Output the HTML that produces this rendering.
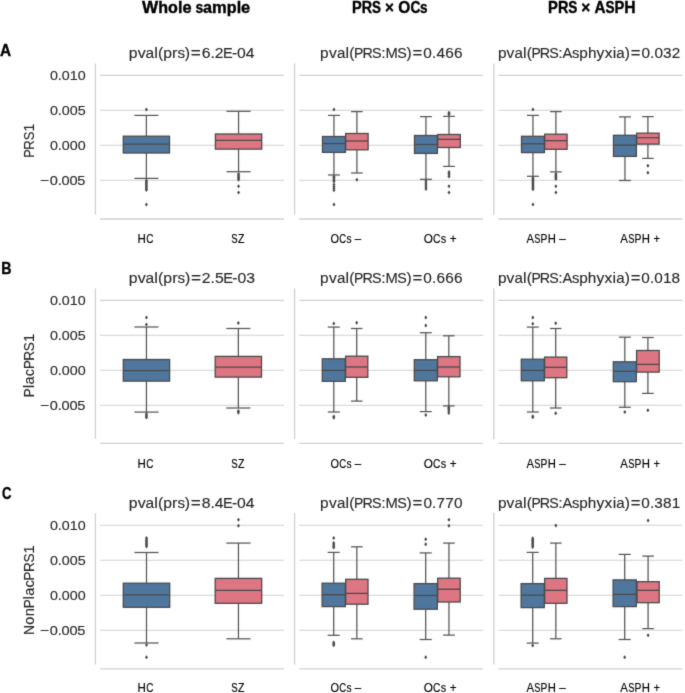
<!DOCTYPE html><html><head><meta charset="utf-8"><style>html,body{margin:0;padding:0;background:#fff;}svg{display:block;will-change:transform;}text{font-family:"Liberation Sans",sans-serif;}</style></head><body>
<svg width="685" height="693" viewBox="0 0 685 693">
<defs><filter id="sf" x="0" y="0" width="685" height="693" filterUnits="userSpaceOnUse" color-interpolation-filters="sRGB"><feConvolveMatrix order="3" kernelMatrix="0.0144 0.0912 0.0144 0.0912 0.5776 0.0912 0.0144 0.0912 0.0144" edgeMode="duplicate"/></filter></defs><g filter="url(#sf)">
<rect width="685" height="693" fill="#fff"/>
<g font-size="16.33" fill="#000" font-weight="bold" stroke="#000" stroke-width="0.4"><text x="141.95" y="12.8" textLength="16.15" lengthAdjust="spacingAndGlyphs">W</text><text x="158.28" y="12.8" textLength="9.82" lengthAdjust="spacingAndGlyphs">h</text><text x="168.08" y="12.8" textLength="9.84" lengthAdjust="spacingAndGlyphs">o</text><text x="177.9" y="12.8" textLength="4.49" lengthAdjust="spacingAndGlyphs">l</text><text x="182.41" y="12.8" textLength="9.13" lengthAdjust="spacingAndGlyphs">e</text><text x="195.46" y="12.8" textLength="7.76" lengthAdjust="spacingAndGlyphs">s</text><text x="202.98" y="12.8" textLength="9.01" lengthAdjust="spacingAndGlyphs">a</text><text x="212.06" y="12.8" textLength="14.71" lengthAdjust="spacingAndGlyphs">m</text><text x="226.82" y="12.8" textLength="9.82" lengthAdjust="spacingAndGlyphs">p</text><text x="236.63" y="12.8" textLength="4.49" lengthAdjust="spacingAndGlyphs">l</text><text x="241.14" y="12.8" textLength="9.13" lengthAdjust="spacingAndGlyphs">e</text></g>
<g font-size="16.42" fill="#000" font-weight="bold" stroke="#000" stroke-width="0.4"><text x="352.07" y="12.8" textLength="9.71" lengthAdjust="spacingAndGlyphs">P</text><text x="361.8" y="12.8" textLength="10.34" lengthAdjust="spacingAndGlyphs">R</text><text x="372.01" y="12.8" textLength="8.93" lengthAdjust="spacingAndGlyphs">S</text><text x="384.91" y="12.8" textLength="8.9" lengthAdjust="spacingAndGlyphs">×</text><text x="398.27" y="12.8" textLength="12.02" lengthAdjust="spacingAndGlyphs">O</text><text x="410.4" y="12.8" textLength="9.9" lengthAdjust="spacingAndGlyphs">C</text><text x="420.11" y="12.8" textLength="7.51" lengthAdjust="spacingAndGlyphs">s</text></g>
<g font-size="16.54" fill="#000" font-weight="bold" stroke="#000" stroke-width="0.4"><text x="548.09" y="12.8" textLength="9.83" lengthAdjust="spacingAndGlyphs">P</text><text x="557.89" y="12.8" textLength="10.47" lengthAdjust="spacingAndGlyphs">R</text><text x="568.17" y="12.8" textLength="9.04" lengthAdjust="spacingAndGlyphs">S</text><text x="581.15" y="12.8" textLength="9.01" lengthAdjust="spacingAndGlyphs">×</text><text x="594.53" y="12.8" textLength="11.02" lengthAdjust="spacingAndGlyphs">A</text><text x="605.49" y="12.8" textLength="9.04" lengthAdjust="spacingAndGlyphs">S</text><text x="614.38" y="12.8" textLength="9.83" lengthAdjust="spacingAndGlyphs">P</text><text x="624.37" y="12.8" textLength="11.33" lengthAdjust="spacingAndGlyphs">H</text></g>
<g font-size="15.7" fill="#000" font-weight="bold" stroke="#000" stroke-width="0.35"><text x="-0.05" y="56.2" textLength="11.11" lengthAdjust="spacingAndGlyphs">A</text></g>
<g font-size="15.7" fill="#000" font-weight="bold" stroke="#000" stroke-width="0.35"><text x="1.2" y="273.7" textLength="10.25" lengthAdjust="spacingAndGlyphs">B</text></g>
<g font-size="15.7" fill="#000" font-weight="bold" stroke="#000" stroke-width="0.35"><text x="1.94" y="499.4" textLength="9.44" lengthAdjust="spacingAndGlyphs">C</text></g>
<g transform="translate(33.6 156.35) rotate(-90)" font-size="14.21" fill="#262626" stroke="#262626" stroke-width="0.12"><text x="-1.52" y="0" textLength="8.51" lengthAdjust="spacingAndGlyphs">P</text><text x="6.72" y="0" textLength="9.44" lengthAdjust="spacingAndGlyphs">R</text><text x="16.02" y="0" textLength="8.68" lengthAdjust="spacingAndGlyphs">S</text><text x="24.98" y="0" textLength="7.79" lengthAdjust="spacingAndGlyphs">1</text></g><g font-size="13.25" fill="#262626" stroke="#262626" stroke-width="0.12"><text x="49.94" y="80.4" textLength="7.95" lengthAdjust="spacingAndGlyphs">0</text><text x="57.89" y="80.4" textLength="3.97" lengthAdjust="spacingAndGlyphs">.</text><text x="61.87" y="80.4" textLength="7.95" lengthAdjust="spacingAndGlyphs">0</text><text x="69.82" y="80.4" textLength="7.95" lengthAdjust="spacingAndGlyphs">1</text><text x="77.78" y="80.4" textLength="7.95" lengthAdjust="spacingAndGlyphs">0</text></g><g font-size="13.25" fill="#262626" stroke="#262626" stroke-width="0.12"><text x="49.94" y="115.3" textLength="7.96" lengthAdjust="spacingAndGlyphs">0</text><text x="57.89" y="115.3" textLength="3.97" lengthAdjust="spacingAndGlyphs">.</text><text x="61.87" y="115.3" textLength="7.96" lengthAdjust="spacingAndGlyphs">0</text><text x="69.82" y="115.3" textLength="7.96" lengthAdjust="spacingAndGlyphs">0</text><text x="77.78" y="115.3" textLength="7.96" lengthAdjust="spacingAndGlyphs">5</text></g><g font-size="13.25" fill="#262626" stroke="#262626" stroke-width="0.12"><text x="49.94" y="150.2" textLength="7.95" lengthAdjust="spacingAndGlyphs">0</text><text x="57.89" y="150.2" textLength="3.97" lengthAdjust="spacingAndGlyphs">.</text><text x="61.87" y="150.2" textLength="7.95" lengthAdjust="spacingAndGlyphs">0</text><text x="69.82" y="150.2" textLength="7.95" lengthAdjust="spacingAndGlyphs">0</text><text x="77.78" y="150.2" textLength="7.95" lengthAdjust="spacingAndGlyphs">0</text></g><g font-size="13.11" fill="#262626" stroke="#262626" stroke-width="0.12"><text x="40.08" y="185.2" textLength="9.31" lengthAdjust="spacingAndGlyphs">−</text><text x="49.81" y="185.2" textLength="8.1" lengthAdjust="spacingAndGlyphs">0</text><text x="57.74" y="185.2" textLength="4.05" lengthAdjust="spacingAndGlyphs">.</text><text x="61.61" y="185.2" textLength="8.1" lengthAdjust="spacingAndGlyphs">0</text><text x="69.49" y="185.2" textLength="8.1" lengthAdjust="spacingAndGlyphs">0</text><text x="77.36" y="185.2" textLength="8.1" lengthAdjust="spacingAndGlyphs">5</text></g><g font-size="14.55" fill="#262626" stroke="#262626" stroke-width="0.12"><text x="128.85" y="58.2" textLength="8.75" lengthAdjust="spacingAndGlyphs">p</text><text x="137.65" y="58.2" textLength="7.98" lengthAdjust="spacingAndGlyphs">v</text><text x="145.6" y="58.2" textLength="8.63" lengthAdjust="spacingAndGlyphs">a</text><text x="154.22" y="58.2" textLength="3.62" lengthAdjust="spacingAndGlyphs">l</text><text x="157.97" y="58.2" textLength="5.29" lengthAdjust="spacingAndGlyphs">(</text><text x="163.28" y="58.2" textLength="8.75" lengthAdjust="spacingAndGlyphs">p</text><text x="172.13" y="58.2" textLength="5.4" lengthAdjust="spacingAndGlyphs">r</text><text x="177.44" y="58.2" textLength="7.58" lengthAdjust="spacingAndGlyphs">s</text><text x="184.84" y="58.2" textLength="5.29" lengthAdjust="spacingAndGlyphs">)</text><text x="190.89" y="58.2" textLength="10.07" lengthAdjust="spacingAndGlyphs">=</text><text x="201.67" y="58.2" textLength="8.76" lengthAdjust="spacingAndGlyphs">6</text><text x="210.41" y="58.2" textLength="4.37" lengthAdjust="spacingAndGlyphs">.</text><text x="214.77" y="58.2" textLength="8.76" lengthAdjust="spacingAndGlyphs">2</text><text x="222.98" y="58.2" textLength="9.74" lengthAdjust="spacingAndGlyphs">E</text><text x="232.1" y="58.2" textLength="5.13" lengthAdjust="spacingAndGlyphs">-</text><text x="237.14" y="58.2" textLength="8.76" lengthAdjust="spacingAndGlyphs">0</text><text x="245.87" y="58.2" textLength="8.76" lengthAdjust="spacingAndGlyphs">4</text></g><line x1="100" y1="75.4" x2="284" y2="75.4" stroke="#d0d0d0" stroke-width="1.1"/><line x1="100" y1="110.3" x2="284" y2="110.3" stroke="#d0d0d0" stroke-width="1.1"/><line x1="100" y1="145.2" x2="284" y2="145.2" stroke="#d0d0d0" stroke-width="1.1"/><line x1="100" y1="180.2" x2="284" y2="180.2" stroke="#d0d0d0" stroke-width="1.1"/><line x1="95.4" y1="63.4" x2="95.4" y2="214.7" stroke="#d0d0d0" stroke-width="1.3"/><line x1="100" y1="219" x2="284" y2="219" stroke="#d0d0d0" stroke-width="1.3"/><g font-size="12.4" fill="#000" stroke="#000" stroke-width="0.15"><text x="137.56" y="242.6" textLength="8.34" lengthAdjust="spacingAndGlyphs">H</text><text x="146.23" y="242.6" textLength="7.25" lengthAdjust="spacingAndGlyphs">C</text></g><g font-size="12.4" fill="#000" stroke="#000" stroke-width="0.15"><text x="231.32" y="242.6" textLength="6.4" lengthAdjust="spacingAndGlyphs">S</text><text x="237.99" y="242.6" textLength="6.46" lengthAdjust="spacingAndGlyphs">Z</text></g><g stroke="#555555" stroke-width="1.25"><line x1="146.4" y1="115.4" x2="146.4" y2="136.2"/><line x1="146.4" y1="153" x2="146.4" y2="178.4"/><line x1="134.39" y1="115.4" x2="158.41" y2="115.4"/><line x1="134.39" y1="178.4" x2="158.41" y2="178.4"/></g><rect x="123.3" y="136.2" width="46.2" height="16.8" fill="#4f779e" stroke="#4a4a4a" stroke-width="1.3"/><line x1="123.3" y1="144.2" x2="169.5" y2="144.2" stroke="#4a4a4a" stroke-width="1.3"/><path d="M146.4 107.6L147.9 109.6L146.4 111.6L144.9 109.6ZM146.4 178.6L147.9 180.6L146.4 182.6L144.9 180.6ZM146.4 179.55L147.9 181.55L146.4 183.55L144.9 181.55ZM146.4 180.5L147.9 182.5L146.4 184.5L144.9 182.5ZM146.4 181.45L147.9 183.45L146.4 185.45L144.9 183.45ZM146.4 182.4L147.9 184.4L146.4 186.4L144.9 184.4ZM146.4 183.35L147.9 185.35L146.4 187.35L144.9 185.35ZM146.4 184.3L147.9 186.3L146.4 188.3L144.9 186.3ZM146.4 185.25L147.9 187.25L146.4 189.25L144.9 187.25ZM146.4 186.2L147.9 188.2L146.4 190.2L144.9 188.2ZM146.4 187.15L147.9 189.15L146.4 191.15L144.9 189.15ZM146.4 188.1L147.9 190.1L146.4 192.1L144.9 190.1ZM146.4 202.5L147.9 204.5L146.4 206.5L144.9 204.5Z" fill="#4a4a4a"/><g stroke="#555555" stroke-width="1.25"><line x1="238.55" y1="111.3" x2="238.55" y2="134"/><line x1="238.55" y1="149.1" x2="238.55" y2="171.7"/><line x1="226.51" y1="111.3" x2="250.59" y2="111.3"/><line x1="226.51" y1="171.7" x2="250.59" y2="171.7"/></g><rect x="215.4" y="134" width="46.3" height="15.1" fill="#dd7682" stroke="#4a4a4a" stroke-width="1.3"/><line x1="215.4" y1="140.3" x2="261.7" y2="140.3" stroke="#4a4a4a" stroke-width="1.3"/><path d="M238.55 172.1L240.05 174.1L238.55 176.1L237.05 174.1ZM238.55 173.03L240.05 175.03L238.55 177.03L237.05 175.03ZM238.55 173.97L240.05 175.97L238.55 177.97L237.05 175.97ZM238.55 174.9L240.05 176.9L238.55 178.9L237.05 176.9ZM238.55 175.83L240.05 177.83L238.55 179.83L237.05 177.83ZM238.55 176.77L240.05 178.77L238.55 180.77L237.05 178.77ZM238.55 177.7L240.05 179.7L238.55 181.7L237.05 179.7ZM238.55 184.3L240.05 186.3L238.55 188.3L237.05 186.3ZM238.55 190.6L240.05 192.6L238.55 194.6L237.05 192.6Z" fill="#4a4a4a"/><g font-size="14.58" fill="#262626" stroke="#262626" stroke-width="0.12"><text x="320.11" y="58.2" textLength="8.55" lengthAdjust="spacingAndGlyphs">p</text><text x="328.92" y="58.2" textLength="7.8" lengthAdjust="spacingAndGlyphs">v</text><text x="336.9" y="58.2" textLength="8.43" lengthAdjust="spacingAndGlyphs">a</text><text x="345.47" y="58.2" textLength="3.54" lengthAdjust="spacingAndGlyphs">l</text><text x="349.25" y="58.2" textLength="5.17" lengthAdjust="spacingAndGlyphs">(</text><text x="354" y="58.2" textLength="9.34" lengthAdjust="spacingAndGlyphs">P</text><text x="362.42" y="58.2" textLength="10.36" lengthAdjust="spacingAndGlyphs">R</text><text x="371.99" y="58.2" textLength="9.53" lengthAdjust="spacingAndGlyphs">S</text><text x="381.25" y="58.2" textLength="4.37" lengthAdjust="spacingAndGlyphs">:</text><text x="385.54" y="58.2" textLength="12.31" lengthAdjust="spacingAndGlyphs">M</text><text x="397.23" y="58.2" textLength="9.53" lengthAdjust="spacingAndGlyphs">S</text><text x="406.47" y="58.2" textLength="5.17" lengthAdjust="spacingAndGlyphs">)</text><text x="412.59" y="58.2" textLength="9.83" lengthAdjust="spacingAndGlyphs">=</text><text x="423.37" y="58.2" textLength="8.55" lengthAdjust="spacingAndGlyphs">0</text><text x="432.08" y="58.2" textLength="4.27" lengthAdjust="spacingAndGlyphs">.</text><text x="436.5" y="58.2" textLength="8.55" lengthAdjust="spacingAndGlyphs">4</text><text x="445.26" y="58.2" textLength="8.55" lengthAdjust="spacingAndGlyphs">6</text><text x="454.02" y="58.2" textLength="8.55" lengthAdjust="spacingAndGlyphs">6</text></g><line x1="299.2" y1="75.4" x2="483.2" y2="75.4" stroke="#d0d0d0" stroke-width="1.1"/><line x1="299.2" y1="110.3" x2="483.2" y2="110.3" stroke="#d0d0d0" stroke-width="1.1"/><line x1="299.2" y1="145.2" x2="483.2" y2="145.2" stroke="#d0d0d0" stroke-width="1.1"/><line x1="299.2" y1="180.2" x2="483.2" y2="180.2" stroke="#d0d0d0" stroke-width="1.1"/><line x1="294.6" y1="63.4" x2="294.6" y2="214.7" stroke="#d0d0d0" stroke-width="1.3"/><line x1="299.2" y1="219" x2="483.2" y2="219" stroke="#d0d0d0" stroke-width="1.3"/><g font-size="12.4" fill="#000" stroke="#000" stroke-width="0.15"><text x="330.48" y="242.6" textLength="8.51" lengthAdjust="spacingAndGlyphs">O</text><text x="339.29" y="242.6" textLength="6.95" lengthAdjust="spacingAndGlyphs">C</text><text x="346.45" y="242.6" textLength="5.07" lengthAdjust="spacingAndGlyphs">s</text><text x="354.83" y="242.6" textLength="6.37" lengthAdjust="spacingAndGlyphs">–</text></g><g font-size="12.4" fill="#000" stroke="#000" stroke-width="0.15"><text x="423.66" y="242.6" textLength="9.12" lengthAdjust="spacingAndGlyphs">O</text><text x="433.12" y="242.6" textLength="7.45" lengthAdjust="spacingAndGlyphs">C</text><text x="440.79" y="242.6" textLength="5.43" lengthAdjust="spacingAndGlyphs">s</text><text x="449.76" y="242.6" textLength="6.86" lengthAdjust="spacingAndGlyphs">+</text></g><g stroke="#555555" stroke-width="1.25"><line x1="333.95" y1="115.4" x2="333.95" y2="136.5"/><line x1="333.95" y1="152.4" x2="333.95" y2="175"/><line x1="328" y1="115.4" x2="339.9" y2="115.4"/><line x1="328" y1="175" x2="339.9" y2="175"/></g><rect x="322.5" y="136.5" width="22.9" height="15.9" fill="#4f779e" stroke="#4a4a4a" stroke-width="1.3"/><line x1="322.5" y1="143.6" x2="345.4" y2="143.6" stroke="#4a4a4a" stroke-width="1.3"/><path d="M333.95 107.6L335.45 109.6L333.95 111.6L332.45 109.6ZM333.95 174.6L335.45 176.6L333.95 178.6L332.45 176.6ZM333.95 175.8L335.45 177.8L333.95 179.8L332.45 177.8ZM333.95 177L335.45 179L333.95 181L332.45 179ZM333.95 178.2L335.45 180.2L333.95 182.2L332.45 180.2ZM333.95 179.4L335.45 181.4L333.95 183.4L332.45 181.4ZM333.95 182.6L335.45 184.6L333.95 186.6L332.45 184.6ZM333.95 184.47L335.45 186.47L333.95 188.47L332.45 186.47ZM333.95 186.33L335.45 188.33L333.95 190.33L332.45 188.33ZM333.95 188.2L335.45 190.2L333.95 192.2L332.45 190.2ZM333.95 202.5L335.45 204.5L333.95 206.5L332.45 204.5Z" fill="#4a4a4a"/><g stroke="#555555" stroke-width="1.25"><line x1="356.9" y1="111.6" x2="356.9" y2="133.5"/><line x1="356.9" y1="149.8" x2="356.9" y2="173"/><line x1="351.08" y1="111.6" x2="362.72" y2="111.6"/><line x1="351.08" y1="173" x2="362.72" y2="173"/></g><rect x="345.7" y="133.5" width="22.4" height="16.3" fill="#dd7682" stroke="#4a4a4a" stroke-width="1.3"/><line x1="345.7" y1="141" x2="368.1" y2="141" stroke="#4a4a4a" stroke-width="1.3"/><path d="M356.9 177.7L358.4 179.7L356.9 181.7L355.4 179.7Z" fill="#4a4a4a"/><g stroke="#555555" stroke-width="1.25"><line x1="425.95" y1="116.6" x2="425.95" y2="135.5"/><line x1="425.95" y1="153.4" x2="425.95" y2="179.3"/><line x1="420" y1="116.6" x2="431.9" y2="116.6"/><line x1="420" y1="179.3" x2="431.9" y2="179.3"/></g><rect x="414.5" y="135.5" width="22.9" height="17.9" fill="#4f779e" stroke="#4a4a4a" stroke-width="1.3"/><line x1="414.5" y1="144.5" x2="437.4" y2="144.5" stroke="#4a4a4a" stroke-width="1.3"/><path d="M425.95 178.9L427.45 180.9L425.95 182.9L424.45 180.9ZM425.95 180.93L427.45 182.93L425.95 184.93L424.45 182.93ZM425.95 182.95L427.45 184.95L425.95 186.95L424.45 184.95ZM425.95 184.97L427.45 186.97L425.95 188.97L424.45 186.97ZM425.95 187L427.45 189L425.95 191L424.45 189Z" fill="#4a4a4a"/><g stroke="#555555" stroke-width="1.25"><line x1="449" y1="116.4" x2="449" y2="134.5"/><line x1="449" y1="147.5" x2="449" y2="166.4"/><line x1="443.12" y1="116.4" x2="454.88" y2="116.4"/><line x1="443.12" y1="166.4" x2="454.88" y2="166.4"/></g><rect x="437.7" y="134.5" width="22.6" height="13" fill="#dd7682" stroke="#4a4a4a" stroke-width="1.3"/><line x1="437.7" y1="139.3" x2="460.3" y2="139.3" stroke="#4a4a4a" stroke-width="1.3"/><path d="M449 110.8L450.5 112.8L449 114.8L447.5 112.8ZM449 111.6L450.5 113.6L449 115.6L447.5 113.6ZM449 112.4L450.5 114.4L449 116.4L447.5 114.4ZM449 170.1L450.5 172.1L449 174.1L447.5 172.1ZM449 171.6L450.5 173.6L449 175.6L447.5 173.6ZM449 173.1L450.5 175.1L449 177.1L447.5 175.1ZM449 174.6L450.5 176.6L449 178.6L447.5 176.6ZM449 184.3L450.5 186.3L449 188.3L447.5 186.3ZM449 190.6L450.5 192.6L449 194.6L447.5 192.6Z" fill="#4a4a4a"/><g font-size="14.41" fill="#262626" stroke="#262626" stroke-width="0.12"><text x="497.92" y="58.2" textLength="8.54" lengthAdjust="spacingAndGlyphs">p</text><text x="506.64" y="58.2" textLength="7.79" lengthAdjust="spacingAndGlyphs">v</text><text x="514.52" y="58.2" textLength="8.42" lengthAdjust="spacingAndGlyphs">a</text><text x="523.01" y="58.2" textLength="3.54" lengthAdjust="spacingAndGlyphs">l</text><text x="526.74" y="58.2" textLength="5.16" lengthAdjust="spacingAndGlyphs">(</text><text x="531.42" y="58.2" textLength="9.33" lengthAdjust="spacingAndGlyphs">P</text><text x="539.73" y="58.2" textLength="10.35" lengthAdjust="spacingAndGlyphs">R</text><text x="549.19" y="58.2" textLength="9.52" lengthAdjust="spacingAndGlyphs">S</text><text x="558.37" y="58.2" textLength="4.37" lengthAdjust="spacingAndGlyphs">:</text><text x="562.59" y="58.2" textLength="9.81" lengthAdjust="spacingAndGlyphs">A</text><text x="571.99" y="58.2" textLength="7.4" lengthAdjust="spacingAndGlyphs">s</text><text x="579.29" y="58.2" textLength="8.54" lengthAdjust="spacingAndGlyphs">p</text><text x="587.91" y="58.2" textLength="8.53" lengthAdjust="spacingAndGlyphs">h</text><text x="596.62" y="58.2" textLength="7.79" lengthAdjust="spacingAndGlyphs">y</text><text x="604.67" y="58.2" textLength="7.79" lengthAdjust="spacingAndGlyphs">x</text><text x="612.71" y="58.2" textLength="3.54" lengthAdjust="spacingAndGlyphs">i</text><text x="616.33" y="58.2" textLength="8.42" lengthAdjust="spacingAndGlyphs">a</text><text x="624.77" y="58.2" textLength="5.16" lengthAdjust="spacingAndGlyphs">)</text><text x="630.8" y="58.2" textLength="9.82" lengthAdjust="spacingAndGlyphs">=</text><text x="641.46" y="58.2" textLength="8.54" lengthAdjust="spacingAndGlyphs">0</text><text x="650.09" y="58.2" textLength="4.27" lengthAdjust="spacingAndGlyphs">.</text><text x="654.44" y="58.2" textLength="8.54" lengthAdjust="spacingAndGlyphs">0</text><text x="663.09" y="58.2" textLength="8.54" lengthAdjust="spacingAndGlyphs">3</text><text x="671.74" y="58.2" textLength="8.54" lengthAdjust="spacingAndGlyphs">2</text></g><line x1="498.4" y1="75.4" x2="682.4" y2="75.4" stroke="#d0d0d0" stroke-width="1.1"/><line x1="498.4" y1="110.3" x2="682.4" y2="110.3" stroke="#d0d0d0" stroke-width="1.1"/><line x1="498.4" y1="145.2" x2="682.4" y2="145.2" stroke="#d0d0d0" stroke-width="1.1"/><line x1="498.4" y1="180.2" x2="682.4" y2="180.2" stroke="#d0d0d0" stroke-width="1.1"/><line x1="493.8" y1="63.4" x2="493.8" y2="214.7" stroke="#d0d0d0" stroke-width="1.3"/><line x1="498.4" y1="219" x2="682.4" y2="219" stroke="#d0d0d0" stroke-width="1.3"/><g font-size="12.4" fill="#000" stroke="#000" stroke-width="0.15"><text x="526.41" y="242.6" textLength="7.54" lengthAdjust="spacingAndGlyphs">A</text><text x="534.21" y="242.6" textLength="6.13" lengthAdjust="spacingAndGlyphs">S</text><text x="540.54" y="242.6" textLength="6.81" lengthAdjust="spacingAndGlyphs">P</text><text x="547.66" y="242.6" textLength="8.13" lengthAdjust="spacingAndGlyphs">H</text><text x="559.24" y="242.6" textLength="6.47" lengthAdjust="spacingAndGlyphs">–</text></g><g font-size="12.4" fill="#000" stroke="#000" stroke-width="0.15"><text x="620.27" y="242.6" textLength="7.61" lengthAdjust="spacingAndGlyphs">A</text><text x="628.15" y="242.6" textLength="6.19" lengthAdjust="spacingAndGlyphs">S</text><text x="634.54" y="242.6" textLength="6.88" lengthAdjust="spacingAndGlyphs">P</text><text x="641.74" y="242.6" textLength="8.2" lengthAdjust="spacingAndGlyphs">H</text><text x="653.42" y="242.6" textLength="6.57" lengthAdjust="spacingAndGlyphs">+</text></g><g stroke="#555555" stroke-width="1.25"><line x1="532.95" y1="115.4" x2="532.95" y2="136.3"/><line x1="532.95" y1="152.6" x2="532.95" y2="176.3"/><line x1="527" y1="115.4" x2="538.9" y2="115.4"/><line x1="527" y1="176.3" x2="538.9" y2="176.3"/></g><rect x="521.5" y="136.3" width="22.9" height="16.3" fill="#4f779e" stroke="#4a4a4a" stroke-width="1.3"/><line x1="521.5" y1="143.8" x2="544.4" y2="143.8" stroke="#4a4a4a" stroke-width="1.3"/><path d="M532.95 107.6L534.45 109.6L532.95 111.6L531.45 109.6ZM532.95 175.9L534.45 177.9L532.95 179.9L531.45 177.9ZM532.95 176.94L534.45 178.94L532.95 180.94L531.45 178.94ZM532.95 177.97L534.45 179.97L532.95 181.97L531.45 179.97ZM532.95 179.01L534.45 181.01L532.95 183.01L531.45 181.01ZM532.95 180.05L534.45 182.05L532.95 184.05L531.45 182.05ZM532.95 181.08L534.45 183.08L532.95 185.08L531.45 183.08ZM532.95 182.12L534.45 184.12L532.95 186.12L531.45 184.12ZM532.95 183.15L534.45 185.15L532.95 187.15L531.45 185.15ZM532.95 184.19L534.45 186.19L532.95 188.19L531.45 186.19ZM532.95 185.23L534.45 187.23L532.95 189.23L531.45 187.23ZM532.95 186.26L534.45 188.26L532.95 190.26L531.45 188.26ZM532.95 187.3L534.45 189.3L532.95 191.3L531.45 189.3ZM532.95 202.5L534.45 204.5L532.95 206.5L531.45 204.5Z" fill="#4a4a4a"/><g stroke="#555555" stroke-width="1.25"><line x1="555.9" y1="111.6" x2="555.9" y2="134.2"/><line x1="555.9" y1="149.3" x2="555.9" y2="171.9"/><line x1="550.08" y1="111.6" x2="561.72" y2="111.6"/><line x1="550.08" y1="171.9" x2="561.72" y2="171.9"/></g><rect x="544.7" y="134.2" width="22.4" height="15.1" fill="#dd7682" stroke="#4a4a4a" stroke-width="1.3"/><line x1="544.7" y1="140.7" x2="567.1" y2="140.7" stroke="#4a4a4a" stroke-width="1.3"/><path d="M555.9 172.1L557.4 174.1L555.9 176.1L554.4 174.1ZM555.9 173.06L557.4 175.06L555.9 177.06L554.4 175.06ZM555.9 174.02L557.4 176.02L555.9 178.02L554.4 176.02ZM555.9 174.98L557.4 176.98L555.9 178.98L554.4 176.98ZM555.9 175.94L557.4 177.94L555.9 179.94L554.4 177.94ZM555.9 176.9L557.4 178.9L555.9 180.9L554.4 178.9ZM555.9 184.3L557.4 186.3L555.9 188.3L554.4 186.3ZM555.9 190.6L557.4 192.6L555.9 194.6L554.4 192.6Z" fill="#4a4a4a"/><g stroke="#555555" stroke-width="1.25"><line x1="624.95" y1="116.9" x2="624.95" y2="135.3"/><line x1="624.95" y1="156.4" x2="624.95" y2="180.5"/><line x1="619" y1="116.9" x2="630.9" y2="116.9"/><line x1="619" y1="180.5" x2="630.9" y2="180.5"/></g><rect x="613.5" y="135.3" width="22.9" height="21.1" fill="#4f779e" stroke="#4a4a4a" stroke-width="1.3"/><line x1="613.5" y1="145.1" x2="636.4" y2="145.1" stroke="#4a4a4a" stroke-width="1.3"/><g stroke="#555555" stroke-width="1.25"><line x1="647.9" y1="116.6" x2="647.9" y2="133.2"/><line x1="647.9" y1="144.1" x2="647.9" y2="158.4"/><line x1="642.08" y1="116.6" x2="653.72" y2="116.6"/><line x1="642.08" y1="158.4" x2="653.72" y2="158.4"/></g><rect x="636.7" y="133.2" width="22.4" height="10.9" fill="#dd7682" stroke="#4a4a4a" stroke-width="1.3"/><line x1="636.7" y1="137.7" x2="659.1" y2="137.7" stroke="#4a4a4a" stroke-width="1.3"/><path d="M647.9 163.65L649.4 165.65L647.9 167.65L646.4 165.65ZM647.9 170.7L649.4 172.7L647.9 174.7L646.4 172.7Z" fill="#4a4a4a"/>
<g transform="translate(33.6 395.5) rotate(-90)" font-size="14.55" fill="#262626" stroke="#262626" stroke-width="0.12"><text x="-1.63" y="0" textLength="8.86" lengthAdjust="spacingAndGlyphs">P</text><text x="7.17" y="0" textLength="3.36" lengthAdjust="spacingAndGlyphs">l</text><text x="10.96" y="0" textLength="7.99" lengthAdjust="spacingAndGlyphs">a</text><text x="19.35" y="0" textLength="7.18" lengthAdjust="spacingAndGlyphs">c</text><text x="26.43" y="0" textLength="8.86" lengthAdjust="spacingAndGlyphs">P</text><text x="34.85" y="0" textLength="9.83" lengthAdjust="spacingAndGlyphs">R</text><text x="44.37" y="0" textLength="9.04" lengthAdjust="spacingAndGlyphs">S</text><text x="53.56" y="0" textLength="8.12" lengthAdjust="spacingAndGlyphs">1</text></g><g font-size="13.25" fill="#262626" stroke="#262626" stroke-width="0.12"><text x="49.94" y="305.4" textLength="7.95" lengthAdjust="spacingAndGlyphs">0</text><text x="57.89" y="305.4" textLength="3.97" lengthAdjust="spacingAndGlyphs">.</text><text x="61.87" y="305.4" textLength="7.95" lengthAdjust="spacingAndGlyphs">0</text><text x="69.82" y="305.4" textLength="7.95" lengthAdjust="spacingAndGlyphs">1</text><text x="77.78" y="305.4" textLength="7.95" lengthAdjust="spacingAndGlyphs">0</text></g><g font-size="13.25" fill="#262626" stroke="#262626" stroke-width="0.12"><text x="49.94" y="340.3" textLength="7.96" lengthAdjust="spacingAndGlyphs">0</text><text x="57.89" y="340.3" textLength="3.97" lengthAdjust="spacingAndGlyphs">.</text><text x="61.87" y="340.3" textLength="7.96" lengthAdjust="spacingAndGlyphs">0</text><text x="69.82" y="340.3" textLength="7.96" lengthAdjust="spacingAndGlyphs">0</text><text x="77.78" y="340.3" textLength="7.96" lengthAdjust="spacingAndGlyphs">5</text></g><g font-size="13.25" fill="#262626" stroke="#262626" stroke-width="0.12"><text x="49.94" y="375.3" textLength="7.95" lengthAdjust="spacingAndGlyphs">0</text><text x="57.89" y="375.3" textLength="3.97" lengthAdjust="spacingAndGlyphs">.</text><text x="61.87" y="375.3" textLength="7.95" lengthAdjust="spacingAndGlyphs">0</text><text x="69.82" y="375.3" textLength="7.95" lengthAdjust="spacingAndGlyphs">0</text><text x="77.78" y="375.3" textLength="7.95" lengthAdjust="spacingAndGlyphs">0</text></g><g font-size="13.11" fill="#262626" stroke="#262626" stroke-width="0.12"><text x="40.08" y="410.2" textLength="9.31" lengthAdjust="spacingAndGlyphs">−</text><text x="49.81" y="410.2" textLength="8.1" lengthAdjust="spacingAndGlyphs">0</text><text x="57.74" y="410.2" textLength="4.05" lengthAdjust="spacingAndGlyphs">.</text><text x="61.61" y="410.2" textLength="8.1" lengthAdjust="spacingAndGlyphs">0</text><text x="69.49" y="410.2" textLength="8.1" lengthAdjust="spacingAndGlyphs">0</text><text x="77.36" y="410.2" textLength="8.1" lengthAdjust="spacingAndGlyphs">5</text></g><g font-size="14.59" fill="#262626" stroke="#262626" stroke-width="0.12"><text x="128.85" y="283.1" textLength="8.77" lengthAdjust="spacingAndGlyphs">p</text><text x="137.67" y="283.1" textLength="8" lengthAdjust="spacingAndGlyphs">v</text><text x="145.64" y="283.1" textLength="8.65" lengthAdjust="spacingAndGlyphs">a</text><text x="154.28" y="283.1" textLength="3.63" lengthAdjust="spacingAndGlyphs">l</text><text x="158.04" y="283.1" textLength="5.31" lengthAdjust="spacingAndGlyphs">(</text><text x="163.36" y="283.1" textLength="8.77" lengthAdjust="spacingAndGlyphs">p</text><text x="172.24" y="283.1" textLength="5.42" lengthAdjust="spacingAndGlyphs">r</text><text x="177.56" y="283.1" textLength="7.6" lengthAdjust="spacingAndGlyphs">s</text><text x="184.98" y="283.1" textLength="5.31" lengthAdjust="spacingAndGlyphs">)</text><text x="191.04" y="283.1" textLength="10.09" lengthAdjust="spacingAndGlyphs">=</text><text x="201.84" y="283.1" textLength="8.78" lengthAdjust="spacingAndGlyphs">2</text><text x="210.61" y="283.1" textLength="4.39" lengthAdjust="spacingAndGlyphs">.</text><text x="214.98" y="283.1" textLength="8.78" lengthAdjust="spacingAndGlyphs">5</text><text x="223.22" y="283.1" textLength="9.76" lengthAdjust="spacingAndGlyphs">E</text><text x="232.36" y="283.1" textLength="5.14" lengthAdjust="spacingAndGlyphs">-</text><text x="237.4" y="283.1" textLength="8.78" lengthAdjust="spacingAndGlyphs">0</text><text x="246.16" y="283.1" textLength="8.78" lengthAdjust="spacingAndGlyphs">3</text></g><line x1="100" y1="300.4" x2="284" y2="300.4" stroke="#d0d0d0" stroke-width="1.1"/><line x1="100" y1="335.3" x2="284" y2="335.3" stroke="#d0d0d0" stroke-width="1.1"/><line x1="100" y1="370.3" x2="284" y2="370.3" stroke="#d0d0d0" stroke-width="1.1"/><line x1="100" y1="405.2" x2="284" y2="405.2" stroke="#d0d0d0" stroke-width="1.1"/><line x1="95.4" y1="288.3" x2="95.4" y2="438.9" stroke="#d0d0d0" stroke-width="1.3"/><line x1="100" y1="443.3" x2="284" y2="443.3" stroke="#d0d0d0" stroke-width="1.3"/><g font-size="12.4" fill="#000" stroke="#000" stroke-width="0.15"><text x="137.56" y="467.5" textLength="8.34" lengthAdjust="spacingAndGlyphs">H</text><text x="146.23" y="467.5" textLength="7.25" lengthAdjust="spacingAndGlyphs">C</text></g><g font-size="12.4" fill="#000" stroke="#000" stroke-width="0.15"><text x="231.32" y="467.5" textLength="6.4" lengthAdjust="spacingAndGlyphs">S</text><text x="237.99" y="467.5" textLength="6.46" lengthAdjust="spacingAndGlyphs">Z</text></g><g stroke="#555555" stroke-width="1.25"><line x1="146.45" y1="327" x2="146.45" y2="359.5"/><line x1="146.45" y1="381.1" x2="146.45" y2="412.1"/><line x1="134.41" y1="327" x2="158.49" y2="327"/><line x1="134.41" y1="412.1" x2="158.49" y2="412.1"/></g><rect x="123.3" y="359.5" width="46.3" height="21.6" fill="#4f779e" stroke="#4a4a4a" stroke-width="1.3"/><line x1="123.3" y1="370.6" x2="169.6" y2="370.6" stroke="#4a4a4a" stroke-width="1.3"/><path d="M146.45 315.6L147.95 317.6L146.45 319.6L144.95 317.6ZM146.45 322.4L147.95 324.4L146.45 326.4L144.95 324.4ZM146.45 412.1L147.95 414.1L146.45 416.1L144.95 414.1ZM146.45 413.27L147.95 415.27L146.45 417.27L144.95 415.27ZM146.45 414.43L147.95 416.43L146.45 418.43L144.95 416.43ZM146.45 415.6L147.95 417.6L146.45 419.6L144.95 417.6Z" fill="#4a4a4a"/><g stroke="#555555" stroke-width="1.25"><line x1="238.35" y1="328.5" x2="238.35" y2="356.4"/><line x1="238.35" y1="377.1" x2="238.35" y2="408"/><line x1="226.31" y1="328.5" x2="250.39" y2="328.5"/><line x1="226.31" y1="408" x2="250.39" y2="408"/></g><rect x="215.2" y="356.4" width="46.3" height="20.7" fill="#dd7682" stroke="#4a4a4a" stroke-width="1.3"/><line x1="215.2" y1="367.1" x2="261.5" y2="367.1" stroke="#4a4a4a" stroke-width="1.3"/><path d="M238.35 320.9L239.85 322.9L238.35 324.9L236.85 322.9ZM238.35 408.9L239.85 410.9L238.35 412.9L236.85 410.9ZM238.35 409.85L239.85 411.85L238.35 413.85L236.85 411.85ZM238.35 410.8L239.85 412.8L238.35 414.8L236.85 412.8Z" fill="#4a4a4a"/><g font-size="14.58" fill="#262626" stroke="#262626" stroke-width="0.12"><text x="320.11" y="283.1" textLength="8.55" lengthAdjust="spacingAndGlyphs">p</text><text x="328.92" y="283.1" textLength="7.8" lengthAdjust="spacingAndGlyphs">v</text><text x="336.9" y="283.1" textLength="8.43" lengthAdjust="spacingAndGlyphs">a</text><text x="345.47" y="283.1" textLength="3.54" lengthAdjust="spacingAndGlyphs">l</text><text x="349.25" y="283.1" textLength="5.17" lengthAdjust="spacingAndGlyphs">(</text><text x="354" y="283.1" textLength="9.34" lengthAdjust="spacingAndGlyphs">P</text><text x="362.42" y="283.1" textLength="10.36" lengthAdjust="spacingAndGlyphs">R</text><text x="371.99" y="283.1" textLength="9.53" lengthAdjust="spacingAndGlyphs">S</text><text x="381.25" y="283.1" textLength="4.37" lengthAdjust="spacingAndGlyphs">:</text><text x="385.54" y="283.1" textLength="12.31" lengthAdjust="spacingAndGlyphs">M</text><text x="397.23" y="283.1" textLength="9.53" lengthAdjust="spacingAndGlyphs">S</text><text x="406.47" y="283.1" textLength="5.17" lengthAdjust="spacingAndGlyphs">)</text><text x="412.59" y="283.1" textLength="9.83" lengthAdjust="spacingAndGlyphs">=</text><text x="423.37" y="283.1" textLength="8.55" lengthAdjust="spacingAndGlyphs">0</text><text x="432.08" y="283.1" textLength="4.27" lengthAdjust="spacingAndGlyphs">.</text><text x="436.5" y="283.1" textLength="8.55" lengthAdjust="spacingAndGlyphs">6</text><text x="445.26" y="283.1" textLength="8.55" lengthAdjust="spacingAndGlyphs">6</text><text x="454.02" y="283.1" textLength="8.55" lengthAdjust="spacingAndGlyphs">6</text></g><line x1="299.2" y1="300.4" x2="483.2" y2="300.4" stroke="#d0d0d0" stroke-width="1.1"/><line x1="299.2" y1="335.3" x2="483.2" y2="335.3" stroke="#d0d0d0" stroke-width="1.1"/><line x1="299.2" y1="370.3" x2="483.2" y2="370.3" stroke="#d0d0d0" stroke-width="1.1"/><line x1="299.2" y1="405.2" x2="483.2" y2="405.2" stroke="#d0d0d0" stroke-width="1.1"/><line x1="294.6" y1="288.3" x2="294.6" y2="438.9" stroke="#d0d0d0" stroke-width="1.3"/><line x1="299.2" y1="443.3" x2="483.2" y2="443.3" stroke="#d0d0d0" stroke-width="1.3"/><g font-size="12.4" fill="#000" stroke="#000" stroke-width="0.15"><text x="330.48" y="467.5" textLength="8.51" lengthAdjust="spacingAndGlyphs">O</text><text x="339.29" y="467.5" textLength="6.95" lengthAdjust="spacingAndGlyphs">C</text><text x="346.45" y="467.5" textLength="5.07" lengthAdjust="spacingAndGlyphs">s</text><text x="354.83" y="467.5" textLength="6.37" lengthAdjust="spacingAndGlyphs">–</text></g><g font-size="12.4" fill="#000" stroke="#000" stroke-width="0.15"><text x="423.66" y="467.5" textLength="9.12" lengthAdjust="spacingAndGlyphs">O</text><text x="433.12" y="467.5" textLength="7.45" lengthAdjust="spacingAndGlyphs">C</text><text x="440.79" y="467.5" textLength="5.43" lengthAdjust="spacingAndGlyphs">s</text><text x="449.76" y="467.5" textLength="6.86" lengthAdjust="spacingAndGlyphs">+</text></g><g stroke="#555555" stroke-width="1.25"><line x1="333.8" y1="327.1" x2="333.8" y2="358.8"/><line x1="333.8" y1="381.3" x2="333.8" y2="412"/><line x1="327.82" y1="327.1" x2="339.78" y2="327.1"/><line x1="327.82" y1="412" x2="339.78" y2="412"/></g><rect x="322.3" y="358.8" width="23" height="22.5" fill="#4f779e" stroke="#4a4a4a" stroke-width="1.3"/><line x1="322.3" y1="370.4" x2="345.3" y2="370.4" stroke="#4a4a4a" stroke-width="1.3"/><path d="M333.8 321.5L335.3 323.5L333.8 325.5L332.3 323.5ZM333.8 414.4L335.3 416.4L333.8 418.4L332.3 416.4ZM333.8 415.8L335.3 417.8L333.8 419.8L332.3 417.8Z" fill="#4a4a4a"/><g stroke="#555555" stroke-width="1.25"><line x1="356.7" y1="328.5" x2="356.7" y2="356.2"/><line x1="356.7" y1="377.3" x2="356.7" y2="401.1"/><line x1="350.93" y1="328.5" x2="362.47" y2="328.5"/><line x1="350.93" y1="401.1" x2="362.47" y2="401.1"/></g><rect x="345.6" y="356.2" width="22.2" height="21.1" fill="#dd7682" stroke="#4a4a4a" stroke-width="1.3"/><line x1="345.6" y1="367" x2="367.8" y2="367" stroke="#4a4a4a" stroke-width="1.3"/><path d="M356.7 320.8L358.2 322.8L356.7 324.8L355.2 322.8Z" fill="#4a4a4a"/><g stroke="#555555" stroke-width="1.25"><line x1="425.8" y1="332.7" x2="425.8" y2="359.7"/><line x1="425.8" y1="380.8" x2="425.8" y2="411.6"/><line x1="419.82" y1="332.7" x2="431.78" y2="332.7"/><line x1="419.82" y1="411.6" x2="431.78" y2="411.6"/></g><rect x="414.3" y="359.7" width="23" height="21.1" fill="#4f779e" stroke="#4a4a4a" stroke-width="1.3"/><line x1="414.3" y1="370.4" x2="437.3" y2="370.4" stroke="#4a4a4a" stroke-width="1.3"/><path d="M425.8 315.6L427.3 317.6L425.8 319.6L424.3 317.6ZM425.8 323.4L427.3 325.4L425.8 327.4L424.3 325.4ZM425.8 412.9L427.3 414.9L425.8 416.9L424.3 414.9Z" fill="#4a4a4a"/><g stroke="#555555" stroke-width="1.25"><line x1="448.8" y1="335.8" x2="448.8" y2="356.6"/><line x1="448.8" y1="376.8" x2="448.8" y2="405.9"/><line x1="442.98" y1="335.8" x2="454.62" y2="335.8"/><line x1="442.98" y1="405.9" x2="454.62" y2="405.9"/></g><rect x="437.6" y="356.6" width="22.4" height="20.2" fill="#dd7682" stroke="#4a4a4a" stroke-width="1.3"/><line x1="437.6" y1="367" x2="460" y2="367" stroke="#4a4a4a" stroke-width="1.3"/><path d="M448.8 405.2L450.3 407.2L448.8 409.2L447.3 407.2ZM448.8 406.17L450.3 408.17L448.8 410.17L447.3 408.17ZM448.8 407.13L450.3 409.13L448.8 411.13L447.3 409.13ZM448.8 408.1L450.3 410.1L448.8 412.1L447.3 410.1ZM448.8 409.07L450.3 411.07L448.8 413.07L447.3 411.07ZM448.8 410.03L450.3 412.03L448.8 414.03L447.3 412.03ZM448.8 411L450.3 413L448.8 415L447.3 413Z" fill="#4a4a4a"/><g font-size="14.4" fill="#262626" stroke="#262626" stroke-width="0.12"><text x="497.93" y="283.1" textLength="8.53" lengthAdjust="spacingAndGlyphs">p</text><text x="506.63" y="283.1" textLength="7.78" lengthAdjust="spacingAndGlyphs">v</text><text x="514.5" y="283.1" textLength="8.41" lengthAdjust="spacingAndGlyphs">a</text><text x="522.99" y="283.1" textLength="3.53" lengthAdjust="spacingAndGlyphs">l</text><text x="526.72" y="283.1" textLength="5.16" lengthAdjust="spacingAndGlyphs">(</text><text x="531.39" y="283.1" textLength="9.32" lengthAdjust="spacingAndGlyphs">P</text><text x="539.69" y="283.1" textLength="10.34" lengthAdjust="spacingAndGlyphs">R</text><text x="549.14" y="283.1" textLength="9.51" lengthAdjust="spacingAndGlyphs">S</text><text x="558.32" y="283.1" textLength="4.37" lengthAdjust="spacingAndGlyphs">:</text><text x="562.54" y="283.1" textLength="9.8" lengthAdjust="spacingAndGlyphs">A</text><text x="571.93" y="283.1" textLength="7.39" lengthAdjust="spacingAndGlyphs">s</text><text x="579.21" y="283.1" textLength="8.53" lengthAdjust="spacingAndGlyphs">p</text><text x="587.84" y="283.1" textLength="8.52" lengthAdjust="spacingAndGlyphs">h</text><text x="596.53" y="283.1" textLength="7.78" lengthAdjust="spacingAndGlyphs">y</text><text x="604.58" y="283.1" textLength="7.78" lengthAdjust="spacingAndGlyphs">x</text><text x="612.61" y="283.1" textLength="3.53" lengthAdjust="spacingAndGlyphs">i</text><text x="616.22" y="283.1" textLength="8.41" lengthAdjust="spacingAndGlyphs">a</text><text x="624.66" y="283.1" textLength="5.16" lengthAdjust="spacingAndGlyphs">)</text><text x="630.68" y="283.1" textLength="9.81" lengthAdjust="spacingAndGlyphs">=</text><text x="641.33" y="283.1" textLength="8.54" lengthAdjust="spacingAndGlyphs">0</text><text x="649.95" y="283.1" textLength="4.26" lengthAdjust="spacingAndGlyphs">.</text><text x="654.3" y="283.1" textLength="8.54" lengthAdjust="spacingAndGlyphs">0</text><text x="662.94" y="283.1" textLength="8.54" lengthAdjust="spacingAndGlyphs">1</text><text x="671.59" y="283.1" textLength="8.54" lengthAdjust="spacingAndGlyphs">8</text></g><line x1="498.4" y1="300.4" x2="682.4" y2="300.4" stroke="#d0d0d0" stroke-width="1.1"/><line x1="498.4" y1="335.3" x2="682.4" y2="335.3" stroke="#d0d0d0" stroke-width="1.1"/><line x1="498.4" y1="370.3" x2="682.4" y2="370.3" stroke="#d0d0d0" stroke-width="1.1"/><line x1="498.4" y1="405.2" x2="682.4" y2="405.2" stroke="#d0d0d0" stroke-width="1.1"/><line x1="493.8" y1="288.3" x2="493.8" y2="438.9" stroke="#d0d0d0" stroke-width="1.3"/><line x1="498.4" y1="443.3" x2="682.4" y2="443.3" stroke="#d0d0d0" stroke-width="1.3"/><g font-size="12.4" fill="#000" stroke="#000" stroke-width="0.15"><text x="526.41" y="467.5" textLength="7.54" lengthAdjust="spacingAndGlyphs">A</text><text x="534.21" y="467.5" textLength="6.13" lengthAdjust="spacingAndGlyphs">S</text><text x="540.54" y="467.5" textLength="6.81" lengthAdjust="spacingAndGlyphs">P</text><text x="547.66" y="467.5" textLength="8.13" lengthAdjust="spacingAndGlyphs">H</text><text x="559.24" y="467.5" textLength="6.47" lengthAdjust="spacingAndGlyphs">–</text></g><g font-size="12.4" fill="#000" stroke="#000" stroke-width="0.15"><text x="620.27" y="467.5" textLength="7.61" lengthAdjust="spacingAndGlyphs">A</text><text x="628.15" y="467.5" textLength="6.19" lengthAdjust="spacingAndGlyphs">S</text><text x="634.54" y="467.5" textLength="6.88" lengthAdjust="spacingAndGlyphs">P</text><text x="641.74" y="467.5" textLength="8.2" lengthAdjust="spacingAndGlyphs">H</text><text x="653.42" y="467.5" textLength="6.57" lengthAdjust="spacingAndGlyphs">+</text></g><g stroke="#555555" stroke-width="1.25"><line x1="532.8" y1="327.1" x2="532.8" y2="359.2"/><line x1="532.8" y1="380.8" x2="532.8" y2="412"/><line x1="526.82" y1="327.1" x2="538.78" y2="327.1"/><line x1="526.82" y1="412" x2="538.78" y2="412"/></g><rect x="521.3" y="359.2" width="23" height="21.6" fill="#4f779e" stroke="#4a4a4a" stroke-width="1.3"/><line x1="521.3" y1="370.4" x2="544.3" y2="370.4" stroke="#4a4a4a" stroke-width="1.3"/><path d="M532.8 315.6L534.3 317.6L532.8 319.6L531.3 317.6ZM532.8 321.7L534.3 323.7L532.8 325.7L531.3 323.7ZM532.8 414.2L534.3 416.2L532.8 418.2L531.3 416.2ZM532.8 415.3L534.3 417.3L532.8 419.3L531.3 417.3Z" fill="#4a4a4a"/><g stroke="#555555" stroke-width="1.25"><line x1="555.7" y1="328.5" x2="555.7" y2="357.1"/><line x1="555.7" y1="377.7" x2="555.7" y2="408"/><line x1="549.93" y1="328.5" x2="561.47" y2="328.5"/><line x1="549.93" y1="408" x2="561.47" y2="408"/></g><rect x="544.6" y="357.1" width="22.2" height="20.6" fill="#dd7682" stroke="#4a4a4a" stroke-width="1.3"/><line x1="544.6" y1="367.3" x2="566.8" y2="367.3" stroke="#4a4a4a" stroke-width="1.3"/><path d="M555.7 321.3L557.2 323.3L555.7 325.3L554.2 323.3ZM555.7 411.2L557.2 413.2L555.7 415.2L554.2 413.2Z" fill="#4a4a4a"/><g stroke="#555555" stroke-width="1.25"><line x1="624.8" y1="337.2" x2="624.8" y2="361.8"/><line x1="624.8" y1="381.7" x2="624.8" y2="407.3"/><line x1="618.82" y1="337.2" x2="630.78" y2="337.2"/><line x1="618.82" y1="407.3" x2="630.78" y2="407.3"/></g><rect x="613.3" y="361.8" width="23" height="19.9" fill="#4f779e" stroke="#4a4a4a" stroke-width="1.3"/><line x1="613.3" y1="371.3" x2="636.3" y2="371.3" stroke="#4a4a4a" stroke-width="1.3"/><path d="M624.8 410L626.3 412L624.8 414L623.3 412Z" fill="#4a4a4a"/><g stroke="#555555" stroke-width="1.25"><line x1="647.9" y1="337.5" x2="647.9" y2="350.5"/><line x1="647.9" y1="372.1" x2="647.9" y2="393.4"/><line x1="642.02" y1="337.5" x2="653.78" y2="337.5"/><line x1="642.02" y1="393.4" x2="653.78" y2="393.4"/></g><rect x="636.6" y="350.5" width="22.6" height="21.6" fill="#dd7682" stroke="#4a4a4a" stroke-width="1.3"/><line x1="636.6" y1="364.4" x2="659.2" y2="364.4" stroke="#4a4a4a" stroke-width="1.3"/><path d="M647.9 408.2L649.4 410.2L647.9 412.2L646.4 410.2Z" fill="#4a4a4a"/>
<g transform="translate(33.6 633.8) rotate(-90)" font-size="14.45" fill="#262626" stroke="#262626" stroke-width="0.12"><text x="-1.32" y="0" textLength="10.19" lengthAdjust="spacingAndGlyphs">N</text><text x="9.02" y="0" textLength="8.04" lengthAdjust="spacingAndGlyphs">o</text><text x="17.46" y="0" textLength="8.15" lengthAdjust="spacingAndGlyphs">n</text><text x="25.51" y="0" textLength="8.91" lengthAdjust="spacingAndGlyphs">P</text><text x="34.28" y="0" textLength="3.38" lengthAdjust="spacingAndGlyphs">l</text><text x="38.03" y="0" textLength="8.04" lengthAdjust="spacingAndGlyphs">a</text><text x="46.36" y="0" textLength="7.22" lengthAdjust="spacingAndGlyphs">c</text><text x="53.38" y="0" textLength="8.91" lengthAdjust="spacingAndGlyphs">P</text><text x="61.74" y="0" textLength="9.89" lengthAdjust="spacingAndGlyphs">R</text><text x="71.2" y="0" textLength="9.09" lengthAdjust="spacingAndGlyphs">S</text><text x="80.33" y="0" textLength="8.16" lengthAdjust="spacingAndGlyphs">1</text></g><g font-size="13.25" fill="#262626" stroke="#262626" stroke-width="0.12"><text x="49.94" y="530.2" textLength="7.95" lengthAdjust="spacingAndGlyphs">0</text><text x="57.89" y="530.2" textLength="3.97" lengthAdjust="spacingAndGlyphs">.</text><text x="61.87" y="530.2" textLength="7.95" lengthAdjust="spacingAndGlyphs">0</text><text x="69.82" y="530.2" textLength="7.95" lengthAdjust="spacingAndGlyphs">1</text><text x="77.78" y="530.2" textLength="7.95" lengthAdjust="spacingAndGlyphs">0</text></g><g font-size="13.25" fill="#262626" stroke="#262626" stroke-width="0.12"><text x="49.94" y="565.2" textLength="7.96" lengthAdjust="spacingAndGlyphs">0</text><text x="57.89" y="565.2" textLength="3.97" lengthAdjust="spacingAndGlyphs">.</text><text x="61.87" y="565.2" textLength="7.96" lengthAdjust="spacingAndGlyphs">0</text><text x="69.82" y="565.2" textLength="7.96" lengthAdjust="spacingAndGlyphs">0</text><text x="77.78" y="565.2" textLength="7.96" lengthAdjust="spacingAndGlyphs">5</text></g><g font-size="13.25" fill="#262626" stroke="#262626" stroke-width="0.12"><text x="49.94" y="600.2" textLength="7.95" lengthAdjust="spacingAndGlyphs">0</text><text x="57.89" y="600.2" textLength="3.97" lengthAdjust="spacingAndGlyphs">.</text><text x="61.87" y="600.2" textLength="7.95" lengthAdjust="spacingAndGlyphs">0</text><text x="69.82" y="600.2" textLength="7.95" lengthAdjust="spacingAndGlyphs">0</text><text x="77.78" y="600.2" textLength="7.95" lengthAdjust="spacingAndGlyphs">0</text></g><g font-size="13.11" fill="#262626" stroke="#262626" stroke-width="0.12"><text x="40.08" y="635.3" textLength="9.31" lengthAdjust="spacingAndGlyphs">−</text><text x="49.81" y="635.3" textLength="8.1" lengthAdjust="spacingAndGlyphs">0</text><text x="57.74" y="635.3" textLength="4.05" lengthAdjust="spacingAndGlyphs">.</text><text x="61.61" y="635.3" textLength="8.1" lengthAdjust="spacingAndGlyphs">0</text><text x="69.49" y="635.3" textLength="8.1" lengthAdjust="spacingAndGlyphs">0</text><text x="77.36" y="635.3" textLength="8.1" lengthAdjust="spacingAndGlyphs">5</text></g><g font-size="14.55" fill="#262626" stroke="#262626" stroke-width="0.12"><text x="128.85" y="507.9" textLength="8.75" lengthAdjust="spacingAndGlyphs">p</text><text x="137.65" y="507.9" textLength="7.98" lengthAdjust="spacingAndGlyphs">v</text><text x="145.6" y="507.9" textLength="8.63" lengthAdjust="spacingAndGlyphs">a</text><text x="154.22" y="507.9" textLength="3.62" lengthAdjust="spacingAndGlyphs">l</text><text x="157.97" y="507.9" textLength="5.29" lengthAdjust="spacingAndGlyphs">(</text><text x="163.28" y="507.9" textLength="8.75" lengthAdjust="spacingAndGlyphs">p</text><text x="172.13" y="507.9" textLength="5.4" lengthAdjust="spacingAndGlyphs">r</text><text x="177.44" y="507.9" textLength="7.58" lengthAdjust="spacingAndGlyphs">s</text><text x="184.84" y="507.9" textLength="5.29" lengthAdjust="spacingAndGlyphs">)</text><text x="190.89" y="507.9" textLength="10.07" lengthAdjust="spacingAndGlyphs">=</text><text x="201.67" y="507.9" textLength="8.76" lengthAdjust="spacingAndGlyphs">8</text><text x="210.41" y="507.9" textLength="4.37" lengthAdjust="spacingAndGlyphs">.</text><text x="214.77" y="507.9" textLength="8.76" lengthAdjust="spacingAndGlyphs">4</text><text x="222.98" y="507.9" textLength="9.74" lengthAdjust="spacingAndGlyphs">E</text><text x="232.1" y="507.9" textLength="5.13" lengthAdjust="spacingAndGlyphs">-</text><text x="237.14" y="507.9" textLength="8.76" lengthAdjust="spacingAndGlyphs">0</text><text x="245.87" y="507.9" textLength="8.76" lengthAdjust="spacingAndGlyphs">4</text></g><line x1="100" y1="525.2" x2="284" y2="525.2" stroke="#d0d0d0" stroke-width="1.1"/><line x1="100" y1="560.2" x2="284" y2="560.2" stroke="#d0d0d0" stroke-width="1.1"/><line x1="100" y1="595.2" x2="284" y2="595.2" stroke="#d0d0d0" stroke-width="1.1"/><line x1="100" y1="630.3" x2="284" y2="630.3" stroke="#d0d0d0" stroke-width="1.1"/><line x1="95.4" y1="513.1" x2="95.4" y2="664.6" stroke="#d0d0d0" stroke-width="1.3"/><line x1="100" y1="668.9" x2="284" y2="668.9" stroke="#d0d0d0" stroke-width="1.3"/><g font-size="12.4" fill="#000" stroke="#000" stroke-width="0.15"><text x="137.56" y="692.3" textLength="8.34" lengthAdjust="spacingAndGlyphs">H</text><text x="146.23" y="692.3" textLength="7.25" lengthAdjust="spacingAndGlyphs">C</text></g><g font-size="12.4" fill="#000" stroke="#000" stroke-width="0.15"><text x="231.32" y="692.3" textLength="6.4" lengthAdjust="spacingAndGlyphs">S</text><text x="237.99" y="692.3" textLength="6.46" lengthAdjust="spacingAndGlyphs">Z</text></g><g stroke="#555555" stroke-width="1.25"><line x1="146.5" y1="552.5" x2="146.5" y2="583.2"/><line x1="146.5" y1="607.3" x2="146.5" y2="643"/><line x1="134.44" y1="552.5" x2="158.56" y2="552.5"/><line x1="134.44" y1="643" x2="158.56" y2="643"/></g><rect x="123.3" y="583.2" width="46.4" height="24.1" fill="#4f779e" stroke="#4a4a4a" stroke-width="1.3"/><line x1="123.3" y1="594.9" x2="169.7" y2="594.9" stroke="#4a4a4a" stroke-width="1.3"/><path d="M146.5 536.1L148 538.1L146.5 540.1L145 538.1ZM146.5 537.15L148 539.15L146.5 541.15L145 539.15ZM146.5 538.2L148 540.2L146.5 542.2L145 540.2ZM146.5 539.25L148 541.25L146.5 543.25L145 541.25ZM146.5 540.3L148 542.3L146.5 544.3L145 542.3ZM146.5 541.35L148 543.35L146.5 545.35L145 543.35ZM146.5 542.4L148 544.4L146.5 546.4L145 544.4ZM146.5 543.45L148 545.45L146.5 547.45L145 545.45ZM146.5 544.5L148 546.5L146.5 548.5L145 546.5ZM146.5 643.1L148 645.1L146.5 647.1L145 645.1ZM146.5 655.2L148 657.2L146.5 659.2L145 657.2Z" fill="#4a4a4a"/><g stroke="#555555" stroke-width="1.25"><line x1="238.45" y1="543.1" x2="238.45" y2="578.4"/><line x1="238.45" y1="603.3" x2="238.45" y2="638.8"/><line x1="226.36" y1="543.1" x2="250.54" y2="543.1"/><line x1="226.36" y1="638.8" x2="250.54" y2="638.8"/></g><rect x="215.2" y="578.4" width="46.5" height="24.9" fill="#dd7682" stroke="#4a4a4a" stroke-width="1.3"/><line x1="215.2" y1="590.3" x2="261.7" y2="590.3" stroke="#4a4a4a" stroke-width="1.3"/><path d="M238.45 517.8L239.95 519.8L238.45 521.8L236.95 519.8ZM238.45 523.8L239.95 525.8L238.45 527.8L236.95 525.8Z" fill="#4a4a4a"/><g font-size="14.59" fill="#262626" stroke="#262626" stroke-width="0.12"><text x="320.11" y="507.9" textLength="8.55" lengthAdjust="spacingAndGlyphs">p</text><text x="328.92" y="507.9" textLength="7.8" lengthAdjust="spacingAndGlyphs">v</text><text x="336.9" y="507.9" textLength="8.43" lengthAdjust="spacingAndGlyphs">a</text><text x="345.47" y="507.9" textLength="3.54" lengthAdjust="spacingAndGlyphs">l</text><text x="349.26" y="507.9" textLength="5.17" lengthAdjust="spacingAndGlyphs">(</text><text x="354.01" y="507.9" textLength="9.34" lengthAdjust="spacingAndGlyphs">P</text><text x="362.43" y="507.9" textLength="10.37" lengthAdjust="spacingAndGlyphs">R</text><text x="372" y="507.9" textLength="9.53" lengthAdjust="spacingAndGlyphs">S</text><text x="381.27" y="507.9" textLength="4.38" lengthAdjust="spacingAndGlyphs">:</text><text x="385.55" y="507.9" textLength="12.32" lengthAdjust="spacingAndGlyphs">M</text><text x="397.25" y="507.9" textLength="9.53" lengthAdjust="spacingAndGlyphs">S</text><text x="406.49" y="507.9" textLength="5.17" lengthAdjust="spacingAndGlyphs">)</text><text x="412.61" y="507.9" textLength="9.84" lengthAdjust="spacingAndGlyphs">=</text><text x="423.4" y="507.9" textLength="8.56" lengthAdjust="spacingAndGlyphs">0</text><text x="432.11" y="507.9" textLength="4.27" lengthAdjust="spacingAndGlyphs">.</text><text x="436.53" y="507.9" textLength="8.56" lengthAdjust="spacingAndGlyphs">7</text><text x="445.29" y="507.9" textLength="8.56" lengthAdjust="spacingAndGlyphs">7</text><text x="454.05" y="507.9" textLength="8.56" lengthAdjust="spacingAndGlyphs">0</text></g><line x1="299.2" y1="525.2" x2="483.2" y2="525.2" stroke="#d0d0d0" stroke-width="1.1"/><line x1="299.2" y1="560.2" x2="483.2" y2="560.2" stroke="#d0d0d0" stroke-width="1.1"/><line x1="299.2" y1="595.2" x2="483.2" y2="595.2" stroke="#d0d0d0" stroke-width="1.1"/><line x1="299.2" y1="630.3" x2="483.2" y2="630.3" stroke="#d0d0d0" stroke-width="1.1"/><line x1="294.6" y1="513.1" x2="294.6" y2="664.6" stroke="#d0d0d0" stroke-width="1.3"/><line x1="299.2" y1="668.9" x2="483.2" y2="668.9" stroke="#d0d0d0" stroke-width="1.3"/><g font-size="12.4" fill="#000" stroke="#000" stroke-width="0.15"><text x="330.48" y="692.3" textLength="8.51" lengthAdjust="spacingAndGlyphs">O</text><text x="339.29" y="692.3" textLength="6.95" lengthAdjust="spacingAndGlyphs">C</text><text x="346.45" y="692.3" textLength="5.07" lengthAdjust="spacingAndGlyphs">s</text><text x="354.83" y="692.3" textLength="6.37" lengthAdjust="spacingAndGlyphs">–</text></g><g font-size="12.4" fill="#000" stroke="#000" stroke-width="0.15"><text x="423.66" y="692.3" textLength="9.12" lengthAdjust="spacingAndGlyphs">O</text><text x="433.12" y="692.3" textLength="7.45" lengthAdjust="spacingAndGlyphs">C</text><text x="440.79" y="692.3" textLength="5.43" lengthAdjust="spacingAndGlyphs">s</text><text x="449.76" y="692.3" textLength="6.86" lengthAdjust="spacingAndGlyphs">+</text></g><g stroke="#555555" stroke-width="1.25"><line x1="333.7" y1="552.4" x2="333.7" y2="583.2"/><line x1="333.7" y1="606.6" x2="333.7" y2="635.3"/><line x1="327.67" y1="552.4" x2="339.73" y2="552.4"/><line x1="327.67" y1="635.3" x2="339.73" y2="635.3"/></g><rect x="322.1" y="583.2" width="23.2" height="23.4" fill="#4f779e" stroke="#4a4a4a" stroke-width="1.3"/><line x1="322.1" y1="594.7" x2="345.3" y2="594.7" stroke="#4a4a4a" stroke-width="1.3"/><path d="M333.7 536L335.2 538L333.7 540L332.2 538ZM333.7 540.9L335.2 542.9L333.7 544.9L332.2 542.9ZM333.7 542.02L335.2 544.02L333.7 546.02L332.2 544.02ZM333.7 543.15L335.2 545.15L333.7 547.15L332.2 545.15ZM333.7 544.27L335.2 546.27L333.7 548.27L332.2 546.27ZM333.7 545.4L335.2 547.4L333.7 549.4L332.2 547.4ZM333.7 640.4L335.2 642.4L333.7 644.4L332.2 642.4ZM333.7 641.37L335.2 643.37L333.7 645.37L332.2 643.37ZM333.7 642.33L335.2 644.33L333.7 646.33L332.2 644.33ZM333.7 643.3L335.2 645.3L333.7 647.3L332.2 645.3Z" fill="#4a4a4a"/><g stroke="#555555" stroke-width="1.25"><line x1="356.85" y1="546.8" x2="356.85" y2="579.3"/><line x1="356.85" y1="604.2" x2="356.85" y2="638.8"/><line x1="351.05" y1="546.8" x2="362.65" y2="546.8"/><line x1="351.05" y1="638.8" x2="362.65" y2="638.8"/></g><rect x="345.7" y="579.3" width="22.3" height="24.9" fill="#dd7682" stroke="#4a4a4a" stroke-width="1.3"/><line x1="345.7" y1="593.4" x2="368" y2="593.4" stroke="#4a4a4a" stroke-width="1.3"/><g stroke="#555555" stroke-width="1.25"><line x1="425.7" y1="552.9" x2="425.7" y2="583.6"/><line x1="425.7" y1="609.2" x2="425.7" y2="639.5"/><line x1="419.67" y1="552.9" x2="431.73" y2="552.9"/><line x1="419.67" y1="639.5" x2="431.73" y2="639.5"/></g><rect x="414.1" y="583.6" width="23.2" height="25.6" fill="#4f779e" stroke="#4a4a4a" stroke-width="1.3"/><line x1="414.1" y1="595.5" x2="437.3" y2="595.5" stroke="#4a4a4a" stroke-width="1.3"/><path d="M425.7 537.2L427.2 539.2L425.7 541.2L424.2 539.2ZM425.7 542.2L427.2 544.2L425.7 546.2L424.2 544.2ZM425.7 655.2L427.2 657.2L425.7 659.2L424.2 657.2Z" fill="#4a4a4a"/><g stroke="#555555" stroke-width="1.25"><line x1="448.95" y1="543.1" x2="448.95" y2="578.2"/><line x1="448.95" y1="602" x2="448.95" y2="635.1"/><line x1="443.1" y1="543.1" x2="454.8" y2="543.1"/><line x1="443.1" y1="635.1" x2="454.8" y2="635.1"/></g><rect x="437.7" y="578.2" width="22.5" height="23.8" fill="#dd7682" stroke="#4a4a4a" stroke-width="1.3"/><line x1="437.7" y1="589.2" x2="460.2" y2="589.2" stroke="#4a4a4a" stroke-width="1.3"/><path d="M448.95 517.8L450.45 519.8L448.95 521.8L447.45 519.8ZM448.95 523.8L450.45 525.8L448.95 527.8L447.45 525.8Z" fill="#4a4a4a"/><g font-size="14.4" fill="#262626" stroke="#262626" stroke-width="0.12"><text x="497.93" y="507.9" textLength="8.53" lengthAdjust="spacingAndGlyphs">p</text><text x="506.64" y="507.9" textLength="7.78" lengthAdjust="spacingAndGlyphs">v</text><text x="514.51" y="507.9" textLength="8.41" lengthAdjust="spacingAndGlyphs">a</text><text x="523" y="507.9" textLength="3.54" lengthAdjust="spacingAndGlyphs">l</text><text x="526.73" y="507.9" textLength="5.16" lengthAdjust="spacingAndGlyphs">(</text><text x="531.4" y="507.9" textLength="9.32" lengthAdjust="spacingAndGlyphs">P</text><text x="539.71" y="507.9" textLength="10.35" lengthAdjust="spacingAndGlyphs">R</text><text x="549.16" y="507.9" textLength="9.51" lengthAdjust="spacingAndGlyphs">S</text><text x="558.34" y="507.9" textLength="4.37" lengthAdjust="spacingAndGlyphs">:</text><text x="562.56" y="507.9" textLength="9.8" lengthAdjust="spacingAndGlyphs">A</text><text x="571.95" y="507.9" textLength="7.4" lengthAdjust="spacingAndGlyphs">s</text><text x="579.24" y="507.9" textLength="8.53" lengthAdjust="spacingAndGlyphs">p</text><text x="587.87" y="507.9" textLength="8.53" lengthAdjust="spacingAndGlyphs">h</text><text x="596.57" y="507.9" textLength="7.78" lengthAdjust="spacingAndGlyphs">y</text><text x="604.61" y="507.9" textLength="7.78" lengthAdjust="spacingAndGlyphs">x</text><text x="612.65" y="507.9" textLength="3.54" lengthAdjust="spacingAndGlyphs">i</text><text x="616.26" y="507.9" textLength="8.41" lengthAdjust="spacingAndGlyphs">a</text><text x="624.7" y="507.9" textLength="5.16" lengthAdjust="spacingAndGlyphs">)</text><text x="630.72" y="507.9" textLength="9.82" lengthAdjust="spacingAndGlyphs">=</text><text x="641.38" y="507.9" textLength="8.54" lengthAdjust="spacingAndGlyphs">0</text><text x="650" y="507.9" textLength="4.27" lengthAdjust="spacingAndGlyphs">.</text><text x="654.35" y="507.9" textLength="8.54" lengthAdjust="spacingAndGlyphs">3</text><text x="663" y="507.9" textLength="8.54" lengthAdjust="spacingAndGlyphs">8</text><text x="671.65" y="507.9" textLength="8.54" lengthAdjust="spacingAndGlyphs">1</text></g><line x1="498.4" y1="525.2" x2="682.4" y2="525.2" stroke="#d0d0d0" stroke-width="1.1"/><line x1="498.4" y1="560.2" x2="682.4" y2="560.2" stroke="#d0d0d0" stroke-width="1.1"/><line x1="498.4" y1="595.2" x2="682.4" y2="595.2" stroke="#d0d0d0" stroke-width="1.1"/><line x1="498.4" y1="630.3" x2="682.4" y2="630.3" stroke="#d0d0d0" stroke-width="1.1"/><line x1="493.8" y1="513.1" x2="493.8" y2="664.6" stroke="#d0d0d0" stroke-width="1.3"/><line x1="498.4" y1="668.9" x2="682.4" y2="668.9" stroke="#d0d0d0" stroke-width="1.3"/><g font-size="12.4" fill="#000" stroke="#000" stroke-width="0.15"><text x="526.41" y="692.3" textLength="7.54" lengthAdjust="spacingAndGlyphs">A</text><text x="534.21" y="692.3" textLength="6.13" lengthAdjust="spacingAndGlyphs">S</text><text x="540.54" y="692.3" textLength="6.81" lengthAdjust="spacingAndGlyphs">P</text><text x="547.66" y="692.3" textLength="8.13" lengthAdjust="spacingAndGlyphs">H</text><text x="559.24" y="692.3" textLength="6.47" lengthAdjust="spacingAndGlyphs">–</text></g><g font-size="12.4" fill="#000" stroke="#000" stroke-width="0.15"><text x="620.27" y="692.3" textLength="7.61" lengthAdjust="spacingAndGlyphs">A</text><text x="628.15" y="692.3" textLength="6.19" lengthAdjust="spacingAndGlyphs">S</text><text x="634.54" y="692.3" textLength="6.88" lengthAdjust="spacingAndGlyphs">P</text><text x="641.74" y="692.3" textLength="8.2" lengthAdjust="spacingAndGlyphs">H</text><text x="653.42" y="692.3" textLength="6.57" lengthAdjust="spacingAndGlyphs">+</text></g><g stroke="#555555" stroke-width="1.25"><line x1="532.7" y1="552.4" x2="532.7" y2="583.6"/><line x1="532.7" y1="607.6" x2="532.7" y2="643.1"/><line x1="526.67" y1="552.4" x2="538.73" y2="552.4"/><line x1="526.67" y1="643.1" x2="538.73" y2="643.1"/></g><rect x="521.1" y="583.6" width="23.2" height="24" fill="#4f779e" stroke="#4a4a4a" stroke-width="1.3"/><line x1="521.1" y1="595.1" x2="544.3" y2="595.1" stroke="#4a4a4a" stroke-width="1.3"/><path d="M532.7 536.2L534.2 538.2L532.7 540.2L531.2 538.2ZM532.7 537.17L534.2 539.17L532.7 541.17L531.2 539.17ZM532.7 538.13L534.2 540.13L532.7 542.13L531.2 540.13ZM532.7 539.1L534.2 541.1L532.7 543.1L531.2 541.1ZM532.7 540.07L534.2 542.07L532.7 544.07L531.2 542.07ZM532.7 541.03L534.2 543.03L532.7 545.03L531.2 543.03ZM532.7 542L534.2 544L532.7 546L531.2 544ZM532.7 542.97L534.2 544.97L532.7 546.97L531.2 544.97ZM532.7 543.93L534.2 545.93L532.7 547.93L531.2 545.93ZM532.7 544.9L534.2 546.9L532.7 548.9L531.2 546.9ZM532.7 643.5L534.2 645.5L532.7 647.5L531.2 645.5Z" fill="#4a4a4a"/><g stroke="#555555" stroke-width="1.25"><line x1="555.85" y1="543.1" x2="555.85" y2="578.4"/><line x1="555.85" y1="603.3" x2="555.85" y2="638.8"/><line x1="550.05" y1="543.1" x2="561.65" y2="543.1"/><line x1="550.05" y1="638.8" x2="561.65" y2="638.8"/></g><rect x="544.7" y="578.4" width="22.3" height="24.9" fill="#dd7682" stroke="#4a4a4a" stroke-width="1.3"/><line x1="544.7" y1="590.3" x2="567" y2="590.3" stroke="#4a4a4a" stroke-width="1.3"/><path d="M555.85 523.4L557.35 525.4L555.85 527.4L554.35 525.4Z" fill="#4a4a4a"/><g stroke="#555555" stroke-width="1.25"><line x1="624.7" y1="554.4" x2="624.7" y2="579.9"/><line x1="624.7" y1="606.6" x2="624.7" y2="639.5"/><line x1="618.67" y1="554.4" x2="630.73" y2="554.4"/><line x1="618.67" y1="639.5" x2="630.73" y2="639.5"/></g><rect x="613.1" y="579.9" width="23.2" height="26.7" fill="#4f779e" stroke="#4a4a4a" stroke-width="1.3"/><line x1="613.1" y1="594.4" x2="636.3" y2="594.4" stroke="#4a4a4a" stroke-width="1.3"/><path d="M624.7 655.2L626.2 657.2L624.7 659.2L623.2 657.2Z" fill="#4a4a4a"/><g stroke="#555555" stroke-width="1.25"><line x1="648.1" y1="556.1" x2="648.1" y2="581.7"/><line x1="648.1" y1="602.7" x2="648.1" y2="628.6"/><line x1="642.33" y1="556.1" x2="653.87" y2="556.1"/><line x1="642.33" y1="628.6" x2="653.87" y2="628.6"/></g><rect x="637" y="581.7" width="22.2" height="21" fill="#dd7682" stroke="#4a4a4a" stroke-width="1.3"/><line x1="637" y1="590.3" x2="659.2" y2="590.3" stroke="#4a4a4a" stroke-width="1.3"/><path d="M648.1 518.4L649.6 520.4L648.1 522.4L646.6 520.4ZM648.1 633.3L649.6 635.3L648.1 637.3L646.6 635.3Z" fill="#4a4a4a"/>
</g></svg></body></html>
